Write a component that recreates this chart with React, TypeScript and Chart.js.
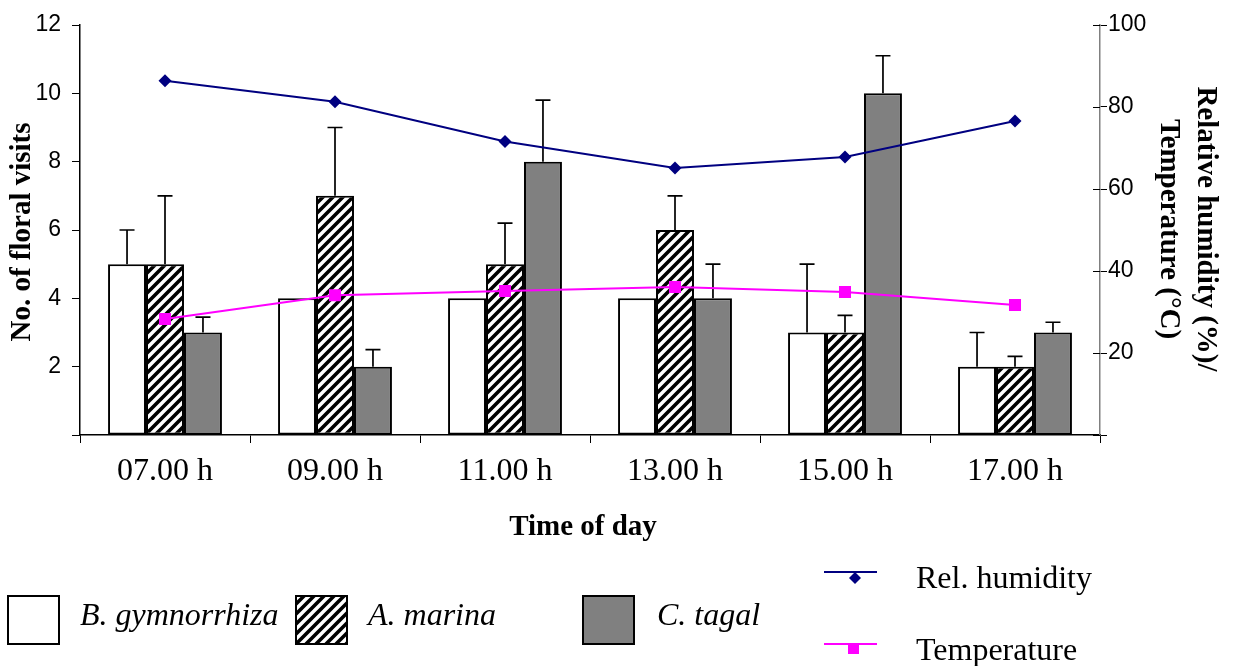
import React, { useEffect, useRef } from 'react';
import { Chart, registerables } from 'chart.js';

Chart.register(...registerables);

const categories = ['07.00 h', '09.00 h', '11.00 h', '13.00 h', '15.00 h', '17.00 h'];
const bGymnorrhiza = [5, 4, 4, 4, 3, 2];
const bGymnorrhizaErr = [1, 0, 0, 0, 2, 1];
const aMarina = [5, 7, 5, 6, 3, 2];
const aMarinaErr = [2, 2, 1.2, 1, 0.5, 0.3];
const cTagal = [3, 2, 8, 4, 10, 3];
const cTagalErr = [0.45, 0.5, 1.8, 1, 1.1, 0.3];
const relHumidity = [86.4, 81.3, 71.6, 65.1, 67.8, 76.6];
const temperature = [28.3, 34.1, 35.1, 36.1, 34.9, 31.7];

const leftAxis = { min: 0, max: 12, step: 2 };
const rightAxis = { min: 0, max: 100, step: 20 };

const SERIF = "'Liberation Serif', 'Times New Roman', serif";
const SANS = "'Liberation Sans', Arial, sans-serif";
const GRAY = '#808080';
const NAVY = '#000080';
const MAGENTA = '#FF00FF';

function makeHatch(): CanvasPattern | string {
  const s = 10;
  const c = document.createElement('canvas');
  c.width = s;
  c.height = s;
  const x = c.getContext('2d');
  if (!x) return '#fff';
  x.fillStyle = '#fff';
  x.fillRect(0, 0, s, s);
  x.strokeStyle = '#000';
  x.lineWidth = 3.6;
  x.beginPath();
  x.moveTo(-s / 2, s / 2);
  x.lineTo(s / 2, -s / 2);
  x.moveTo(0, s);
  x.lineTo(s, 0);
  x.moveTo(s / 2, s * 1.5);
  x.lineTo(s * 1.5, s / 2);
  x.stroke();
  const p = x.createPattern(c, 'repeat');
  return p || '#fff';
}

const errorBarPlugin = {
  id: 'errorBars',
  afterDatasetDraw(chart: any, args: any) {
    const ds = chart.data.datasets[args.index];
    if (!ds.errors) return;
    const meta = args.meta;
    const yScale = chart.scales[meta.yAxisID];
    const ctx = chart.ctx;
    ctx.save();
    ctx.strokeStyle = '#000';
    ctx.lineWidth = 1.7;
    meta.data.forEach((el: any, i: number) => {
      const e = ds.errors[i];
      if (!e) return;
      const top = yScale.getPixelForValue(ds.data[i] + e);
      ctx.beginPath();
      ctx.moveTo(el.x, el.y);
      ctx.lineTo(el.x, top);
      ctx.moveTo(el.x - 7.5, top);
      ctx.lineTo(el.x + 7.5, top);
      ctx.stroke();
    });
    ctx.restore();
  },
};

const decorPlugin = {
  id: 'decor',
  afterDraw(chart: any) {
    const ctx = chart.ctx;
    const y2 = chart.scales.y2;
    ctx.save();
    // inner tick halves on right axis
    ctx.strokeStyle = '#000';
    ctx.lineWidth = 1;
    for (let v = rightAxis.min; v <= rightAxis.max; v += rightAxis.step) {
      const py = Math.round(y2.getPixelForValue(v)) + 0.5;
      ctx.beginPath();
      ctx.moveTo(y2.left - 7, py);
      ctx.lineTo(y2.left, py);
      ctx.stroke();
    }

    ctx.fillStyle = '#000';
    // Left axis title
    ctx.save();
    ctx.translate(23, 232);
    ctx.rotate(-Math.PI / 2);
    ctx.font = `bold 29px ${SERIF}`;
    ctx.textAlign = 'center';
    ctx.textBaseline = 'middle';
    ctx.fillText('No. of floral visits', 0, 0);
    ctx.restore();

    // Right axis title
    ctx.save();
    ctx.translate(1205, 229);
    ctx.rotate(Math.PI / 2);
    ctx.font = `bold 29px ${SERIF}`;
    ctx.textAlign = 'center';
    ctx.textBaseline = 'middle';
    ctx.fillText('Relative humidity (%)/', 0, 0);
    ctx.restore();
    ctx.save();
    ctx.translate(1168, 229);
    ctx.rotate(Math.PI / 2);
    ctx.font = `bold 29px ${SERIF}`;
    ctx.textAlign = 'center';
    ctx.textBaseline = 'middle';
    ctx.fillText('Temperature (°C)', 0, 0);
    ctx.restore();

    // X axis title
    ctx.font = `bold 29px ${SERIF}`;
    ctx.textAlign = 'center';
    ctx.textBaseline = 'middle';
    ctx.fillText('Time of day', 583, 528);

    // Legend boxes
    const boxes = [
      { x: 8, fill: '#fff', label: 'B. gymnorrhiza', tx: 80 },
      { x: 296, fill: chart.data.datasets[1].backgroundColor, label: 'A. marina', tx: 368 },
      { x: 583, fill: GRAY, label: 'C. tagal', tx: 657 },
    ];
    boxes.forEach((b) => {
      ctx.fillStyle = b.fill;
      ctx.fillRect(b.x, 596, 51, 48);
      ctx.strokeStyle = '#000';
      ctx.lineWidth = 2;
      ctx.strokeRect(b.x, 596, 51, 48);
      ctx.fillStyle = '#000';
      ctx.font = `italic 32px ${SERIF}`;
      ctx.textAlign = 'left';
      ctx.textBaseline = 'alphabetic';
      ctx.fillText(b.label, b.tx, 625);
    });

    // Legend lines
    ctx.lineWidth = 2;
    ctx.strokeStyle = NAVY;
    ctx.beginPath();
    ctx.moveTo(824, 572);
    ctx.lineTo(877, 572);
    ctx.stroke();
    ctx.fillStyle = NAVY;
    ctx.beginPath();
    ctx.moveTo(855, 572);
    ctx.lineTo(861, 578);
    ctx.lineTo(855, 584);
    ctx.lineTo(849, 578);
    ctx.closePath();
    ctx.fill();

    ctx.strokeStyle = MAGENTA;
    ctx.beginPath();
    ctx.moveTo(824, 644);
    ctx.lineTo(877, 644);
    ctx.stroke();
    ctx.fillStyle = MAGENTA;
    ctx.fillRect(848, 644, 11, 10);

    ctx.fillStyle = '#000';
    ctx.font = `32px ${SERIF}`;
    ctx.textAlign = 'left';
    ctx.textBaseline = 'alphabetic';
    ctx.fillText('Rel. humidity', 916, 588);
    ctx.fillText('Temperature', 916, 660);
    ctx.restore();
  },
};

export default function App() {
  const ref = useRef<HTMLCanvasElement>(null);

  useEffect(() => {
    if (!ref.current) return;
    const hatch = makeHatch();
    const barCommon = {
      type: 'bar' as const,
      yAxisID: 'y',
      borderColor: '#000',
      borderWidth: 2,
      borderSkipped: false,
      categoryPercentage: 0.67,
      barPercentage: 1,
      order: 2,
    };
    const chart = new Chart(ref.current, {
      type: 'bar',
      data: {
        labels: categories,
        datasets: [
          { ...barCommon, label: 'B. gymnorrhiza', data: bGymnorrhiza, errors: bGymnorrhizaErr, backgroundColor: '#fff' } as any,
          { ...barCommon, label: 'A. marina', data: aMarina, errors: aMarinaErr, backgroundColor: hatch } as any,
          { ...barCommon, label: 'C. tagal', data: cTagal, errors: cTagalErr, backgroundColor: GRAY } as any,
          {
            type: 'line',
            label: 'Rel. humidity',
            data: relHumidity,
            yAxisID: 'y2',
            borderColor: NAVY,
            backgroundColor: NAVY,
            borderWidth: 2,
            pointStyle: 'rectRot',
            pointRadius: 6.5,
            pointBorderWidth: 0,
            tension: 0,
            order: 1,
          } as any,
          {
            type: 'line',
            label: 'Temperature',
            data: temperature,
            yAxisID: 'y2',
            borderColor: MAGENTA,
            backgroundColor: MAGENTA,
            borderWidth: 2,
            pointStyle: 'rect',
            pointRadius: 8.5,
            pointBorderWidth: 0,
            tension: 0,
            order: 1,
          } as any,
        ],
      },
      options: {
        animation: false,
        responsive: false,
        devicePixelRatio: 1,
        layout: { padding: { top: 25, left: 0, right: 0, bottom: 0 } },
        plugins: {
          legend: { display: false },
          tooltip: { enabled: false },
        },
        scales: {
          x: {
            offset: true,
            grid: {
              display: true,
              drawOnChartArea: false,
              drawTicks: true,
              tickLength: 8,
              color: '#000',
              lineWidth: 1,
              offset: true,
            },
            border: { display: true, color: '#000', width: 1.5 },
            ticks: {
              color: '#000',
              font: { family: SERIF, size: 32 },
              padding: 9,
              maxRotation: 0,
            },
            afterFit(scale: any) {
              scale.height = 231;
            },
          },
          y: {
            position: 'left',
            min: leftAxis.min,
            max: leftAxis.max,
            grid: {
              display: true,
              drawOnChartArea: false,
              drawTicks: true,
              tickLength: 8,
              color: '#000',
              lineWidth: 1,
            },
            border: { display: true, color: '#000', width: 1.5 },
            ticks: {
              stepSize: leftAxis.step,
              color: '#000',
              font: { family: SANS, size: 23 },
              padding: 11,
              callback: (v: any) => (v === 0 ? '' : String(v)),
            },
            afterFit(scale: any) {
              scale.width = 80;
            },
          },
          y2: {
            position: 'right',
            min: rightAxis.min,
            max: rightAxis.max,
            grid: {
              display: true,
              drawOnChartArea: false,
              drawTicks: true,
              tickLength: 7,
              color: '#000',
              lineWidth: 1,
            },
            border: { display: true, color: GRAY, width: 1.5 },
            ticks: {
              stepSize: rightAxis.step,
              color: '#000',
              font: { family: SANS, size: 23 },
              padding: 1,
              callback: (v: any) => (v === 0 ? '' : String(v)),
            },
            afterFit(scale: any) {
              scale.width = 135;
            },
          },
        },
      } as any,
      plugins: [errorBarPlugin, decorPlugin],
    });
    return () => chart.destroy();
  }, []);

  return (
    <div style={{ position: 'absolute', left: 0, top: 0, width: 1235, height: 666, background: '#fff' }}>
      <canvas ref={ref} width={1235} height={666} style={{ display: 'block' }} />
    </div>
  );
}
